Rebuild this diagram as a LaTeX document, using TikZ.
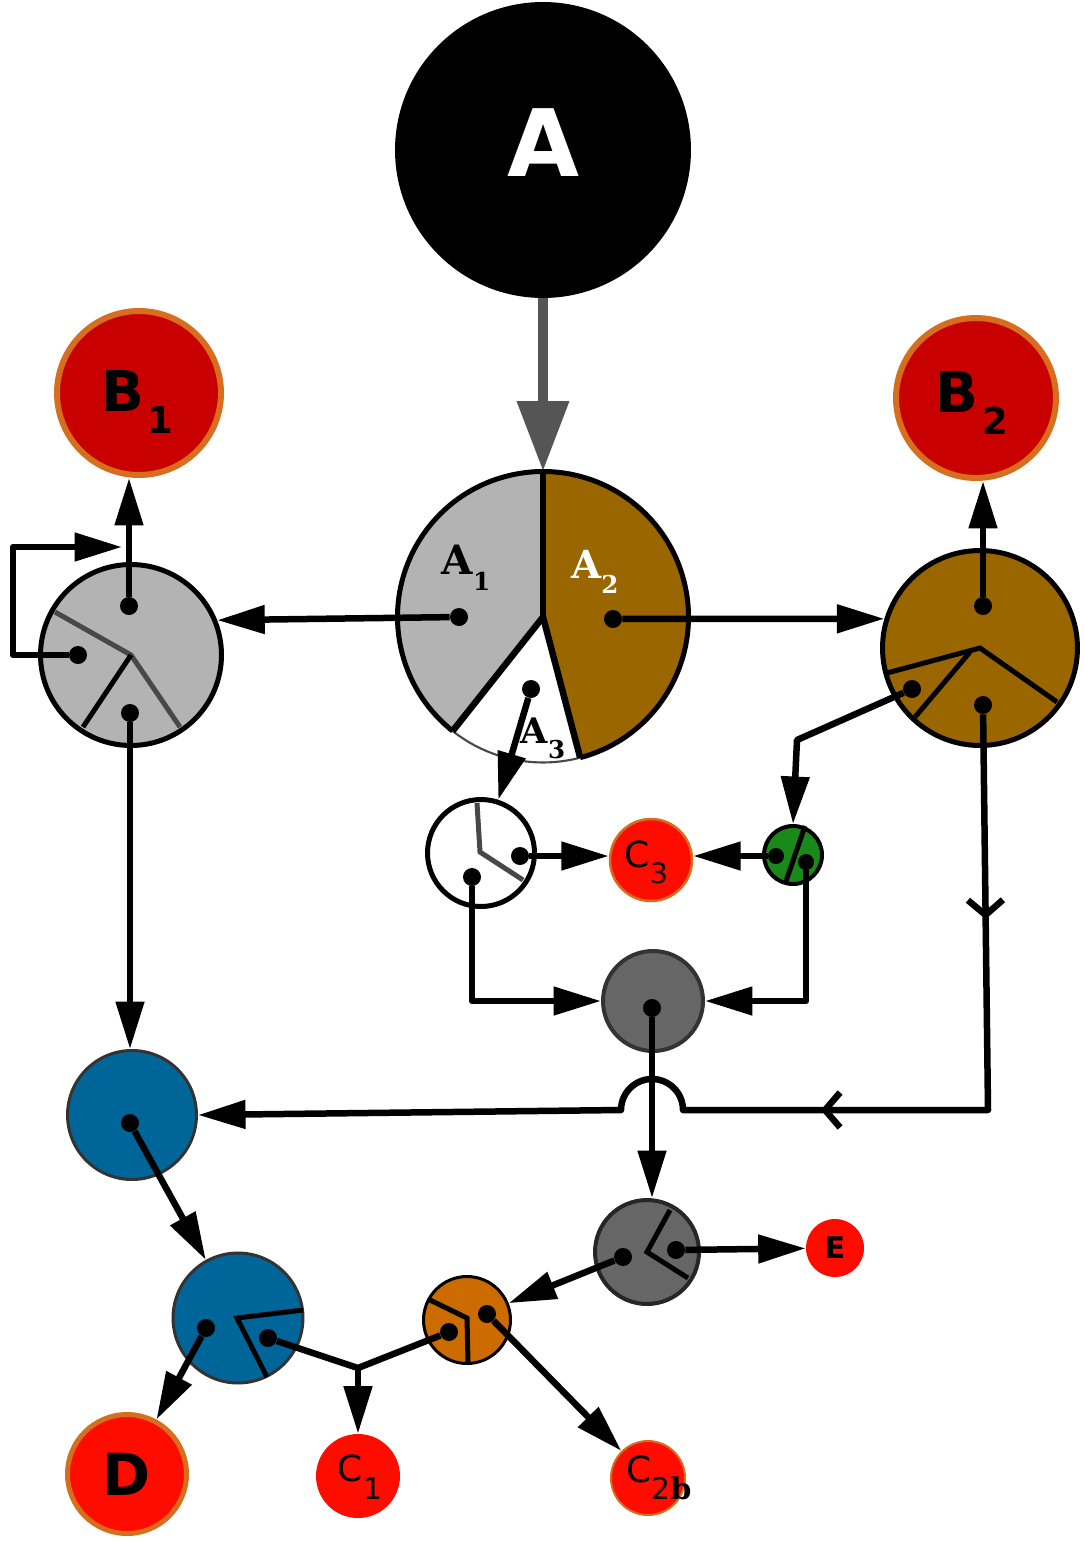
\documentclass[tikz,border=0pt]{standalone}
\usepackage{fontspec}
\setmainfont{DejaVu Serif}
\setsansfont{DejaVu Sans}
\usepackage{xcolor}
\definecolor{pie-gray}{RGB}{179,179,179}
\definecolor{pie-brown}{RGB}{153,102,0}
\definecolor{dark-red}{RGB}{200,0,0}
\definecolor{rim-orange}{RGB}{214,110,30}
\definecolor{bright-red}{RGB}{255,12,0}
\definecolor{mid-gray}{RGB}{102,102,102}
\definecolor{line-gray}{RGB}{72,72,72}
\definecolor{arrow-gray}{RGB}{85,85,85}
\definecolor{leaf-green}{RGB}{25,138,25}
\definecolor{sea-blue}{RGB}{0,102,153}
\definecolor{rust-orange}{RGB}{204,108,0}
\usetikzlibrary{arrows.meta,decorations.markings}
\newcommand{\lowsub}[3]{\raisebox{-#1}{\fontsize{#2}{#2}\selectfont #3}}

\begin{document}
\begin{tikzpicture}[
    x=0.02cm, y=0.02cm,
    every node/.style={inner sep=0pt},
    junc/.style={circle, draw=black, line width=0.1cm},
    sink/.style={circle, fill=bright-red},
    dotn/.style={circle, fill=black, minimum size=0.36cm},
    wire/.style={line width=0.13cm, line join=round},
    conn/.style={wire, -{Triangle[length=0.95cm,width=0.55cm]}},
    cut/.style={line width=0.1cm, line join=miter},
    blab/.style={font=\sffamily\bfseries\fontsize{#1}{#1}\selectfont},
    clab/.style={font=\sffamily\fontsize{#1}{#1}\selectfont},
    alab/.style={font=\rmfamily\bfseries\fontsize{#1}{#1}\selectfont}
]
\useasboundingbox (0,0) rectangle (1083,-1541);

% Source and split
\node[circle, fill=black, minimum size=5.92cm] (A) at (543,-150) {};
\node[blab=53pt, text=white] (Alab) at ([shift={(1,7.5)}]A.center) {A};

\node[circle, minimum size=5.82cm] (pie) at (543,-617) {};
\fill[pie-gray] (pie.center) -- ++(90:2.91cm) arc[start angle=90, end angle=231.6, radius=2.91cm] -- cycle;
\fill[pie-brown] (pie.center) -- ++(90:2.91cm) arc[start angle=90, end angle=-75.2, radius=2.91cm] -- cycle;
\fill[white] (pie.center) -- ++(231.6:2.91cm) arc[start angle=231.6, end angle=284.8, radius=2.91cm] -- cycle;
\draw[line width=0.1cm] (pie.center) ++(-75.2:2.91cm) arc[start angle=-75.2, end angle=231.6, radius=2.91cm];
\draw[line width=1.2pt, line-gray] (pie.center) ++(231.6:2.91cm) arc[start angle=231.6, end angle=284.8, radius=2.91cm];
\draw[line width=0.13cm] (pie.center) -- ++(90:2.91cm);
\draw[line width=0.13cm] (pie.center) -- ++(231.6:2.91cm);
\draw[line width=0.13cm] (pie.center) -- ++(-75.2:2.91cm);

\draw[line width=0.2cm, arrow-gray, -{Triangle[length=1.4cm,width=1.0cm]}] (A.south) -- (pie.north);

\node[alab=23pt] (A1lab) at (466,-568) {A\lowsub{9pt}{14pt}{1}};
\node[alab=22pt, text=white] (A2lab) at (595,-572) {A\lowsub{8.5pt}{14pt}{2}};
\node[alab=20pt] (A3lab) at (543,-738) {A\lowsub{8.5pt}{14pt}{3}};

% Outputs B
\node[circle, fill=dark-red, draw=rim-orange, line width=0.12cm, minimum size=3.28cm] (B1) at (139,-393) {};
\node[blab=32pt] (B1lab) at ([shift={(-1.5,-9)}]B1.center) {B\kern2pt\lowsub{13pt}{21pt}{1}};
\node[circle, fill=dark-red, draw=rim-orange, line width=0.12cm, minimum size=3.2cm] (B2) at (976,-398) {};
\node[blab=32pt] (B2lab) at ([shift={(-4,-5)}]B2.center) {B\kern2pt\lowsub{13pt}{21pt}{2}};

% Gray junction
\node[junc, fill=pie-gray, minimum size=3.62cm] (G1) at (131,-655) {};
\draw[cut, line-gray] (55,-612) -- (G1.center) -- (180,-727);
\draw[cut] (G1.center) -- (83,-727);

% Brown junction
\node[junc, fill=pie-brown, minimum size=3.9cm] (G2) at (980,-648) {};
\draw[cut] (887,-673) -- (G2.center) -- (1057,-702);
\draw[cut] (970,-652) -- (915,-717);

% White junction
\node[junc, fill=white, minimum size=2.14cm] (W) at (481,-853) {};
\draw[cut, line-gray] (477,-803) -- (480,-852) -- (523,-880);

% C3 and green
\node[sink, draw=rim-orange, line width=0.05cm, minimum size=1.64cm] (C3) at (651,-860) {};
\node[clab=20.5pt] (C3lab) at ([shift={(-4.5,-2.5)}]C3.center) {C\lowsub{9pt}{16pt}{3}};
\node[circle, fill=leaf-green, draw=black, line width=0.08cm, minimum size=1.16cm] (Gr) at (793,-855) {};
\draw[cut] (805,-826) -- (785,-884);

% Mid gray and lower gray
\node[circle, fill=mid-gray, draw=black!80, line width=0.08cm, minimum size=2.0cm] (M) at (653,-1001) {};
\node[circle, fill=mid-gray, draw=black!85, line width=0.08cm, minimum size=2.08cm] (L) at (647,-1252) {};
\draw[cut] (670,-1210) -- (L.center) -- (688,-1278);
\node[sink, minimum size=1.16cm] (E) at (835,-1248) {};
\node[blab=17pt] (Elab) at (E.center) {E};

% Blue pair
\node[circle, fill=sea-blue, draw=black!80, line width=0.06cm, minimum size=2.58cm] (Bl1) at (132,-1115) {};
\node[circle, fill=sea-blue, draw=black!80, line width=0.06cm, minimum size=2.6cm] (Bl2) at (238,-1318) {};
\draw[cut] (303,-1310) -- (237,-1318) -- (267,-1377);

% Orange
\node[circle, fill=rust-orange, draw=black, line width=0.06cm, minimum size=1.74cm] (O) at (467,-1320) {};
\draw[cut] (430,-1300) -- (467,-1318) -- (468,-1362);

% Bottom sinks
\node[sink, draw=rim-orange, line width=0.1cm, minimum size=2.38cm] (D) at (127,-1474) {};
\node[blab=33pt] (Dlab) at (D.center) {D};
\node[sink, minimum size=1.68cm] (C1) at (358,-1476) {};
\node[clab=20.5pt] (C1lab) at ([shift={(2,-1)}]C1.center) {C\kern1pt\lowsub{10pt}{17pt}{1}};
\node[sink, draw=rim-orange, line width=0.04cm, minimum size=1.48cm] (C2b) at (648,-1478) {};
\node[clab=20.5pt] (C2blab) at ([shift={(11,0)}]C2b.center) {C\lowsub{9.5pt}{17pt}{2{\rmfamily\bfseries b}}};

% Ports
\node[dotn] (pd1) at (459,-617) {};
\node[dotn] (pd2) at (613,-619) {};
\node[dotn] (pd3) at (531,-689) {};
\node[dotn] (G1t) at (129,-606) {};
\node[dotn] (G1l) at (78,-655) {};
\node[dotn] (G1b) at (130,-713) {};
\node[dotn] (G2t) at (983,-606) {};
\node[dotn] (G2l) at (912,-689) {};
\node[dotn] (G2b) at (983,-705) {};
\node[dotn] (Wr) at (520,-856) {};
\node[dotn] (Wb) at (472,-877) {};
\node[dotn, minimum size=0.32cm] (Grl) at (776,-856) {};
\node[dotn, minimum size=0.32cm] (Grr) at (806,-862) {};
\node[dotn] (Md) at (652,-1008) {};
\node[dotn] (Ll) at (623,-1257) {};
\node[dotn] (Lr) at (676,-1250) {};
\node[dotn] (Bl1d) at (130,-1123) {};
\node[dotn] (Bl2l) at (206,-1328) {};
\node[dotn] (Bl2r) at (268,-1338) {};
\node[dotn] (Ol) at (449,-1332) {};
\node[dotn] (Or) at (487,-1314) {};

\coordinate (loopend) at (122,-547);
\coordinate (gbend) at (797,-740);
\coordinate (rc) at (988,-1110);
\coordinate (bridgeR) at (683,-1110);
\coordinate (jn) at (358,-1368);

% Connectors
\draw[conn] (pd1) -- (G1.22);
\draw[conn] (pd2) -- (G2.163);
\draw[conn] (pd3) -- (W.72);
\draw[conn] (G1t) -- (G1t |- B1.south);
\draw[conn] (G1l) -- ++(-65,0) |- (loopend);
\draw[conn] (G1b) -- (G1b |- Bl1.north);
\draw[conn] (G2t) -- (G2t |- B2.south);
\draw[conn] (G2l) -- (gbend) -- (Gr.north);
\draw[conn, postaction={decorate}, decoration={markings,
    mark=at position 4.1cm with {\arrow{Straight Barb[length=0.3cm,width=0.7cm]}},
    mark=at position 11.26cm with {\arrow{Straight Barb[length=0.3cm,width=0.7cm]}}}]
    (G2b) -- (rc) -- (bridgeR) arc[start angle=0, end angle=180, radius=0.62cm] -- (Bl1.east);
\draw[conn] (Wr) -- (Wr -| C3.west);
\draw[conn] (Grl) -- (Grl -| C3.east);
\draw[conn] (Wb) |- (M.west);
\draw[conn] (Grr) |- (M.east);
\draw[conn] (Md) -- (Md |- L.north);
\draw[conn] (Lr) -- (E);
\draw[conn] (Ll) -- (O);
\draw[conn] (Bl1d) -- (Bl2);
\draw[conn] (Bl2l) -- (D);
\draw[wire] (Bl2r) -- (jn) -- (Ol);
\draw[conn] (jn) -- (C1);
\draw[conn] (Or) -- (C2b);

\end{tikzpicture}
\end{document}
